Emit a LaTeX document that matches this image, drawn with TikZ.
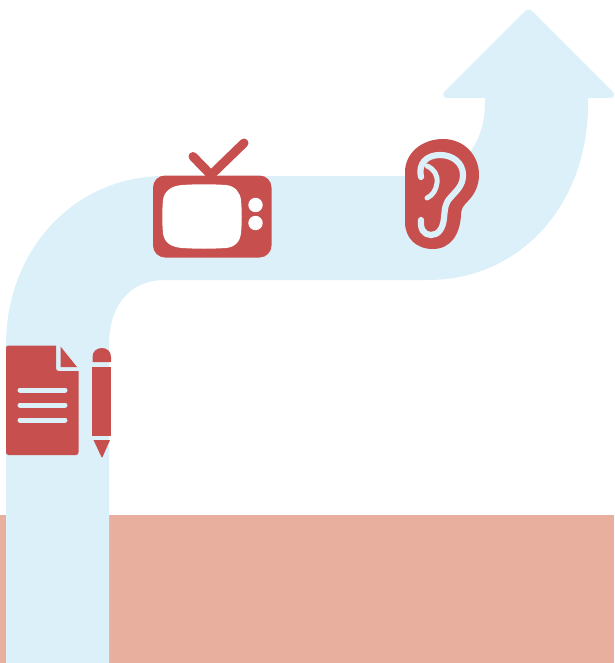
\documentclass[tikz,border=0pt]{standalone}
\definecolor{band}{HTML}{DBF0F8}
\definecolor{icon}{HTML}{C74F4E}
\definecolor{ground}{HTML}{E8AF9F}
\tikzset{
  px/.style={x=1pt,y=-1pt},
  bandfill/.style={fill=band,draw=none},
  iconfill/.style={fill=icon,draw=none},
  cut/.style={draw=band,line width=6.2pt,line cap=round,line join=round,fill=none},
  doccut/.style={draw=band,line width=5pt,line cap=round},
  antenna/.style={draw=icon,line width=9pt,line cap=round,line join=round}
}
\begin{document}
\begin{tikzpicture}[px]
\useasboundingbox (0,0) rectangle (614,663);
% ground
\fill[ground] (0,515) rectangle (614,663);
% band
\path[bandfill] (6,663) -- (6,345)
  .. controls (6,252) and (72,176) .. (165,176)
  -- (428,176)
  .. controls (462,176) and (485,140) .. (485,104)
  -- (485,98) -- (447,98)
  .. controls (443,98) and (442,94) .. (445,91)
  -- (524,12)
  .. controls (527,9) and (530,9) .. (533,12)
  -- (612,91)
  .. controls (615,94) and (615,98) .. (610,98)
  -- (588,98) -- (588,104)
  .. controls (588,205) and (520,280) .. (428,280)
  -- (165,280)
  .. controls (130,280) and (109,305) .. (109,345)
  -- (109,663) -- cycle;
% document
\path[iconfill] (8.5,345.5) -- (56,345.5) -- (56,368)
  .. controls (56,370) and (57,371) .. (59,371)
  -- (78.5,371) -- (78.5,452)
  .. controls (78.5,454) and (77.5,455) .. (76,455)
  -- (8.5,455)
  .. controls (7,455) and (6,454) .. (6,452)
  -- (6,348)
  .. controls (6,346.5) and (7,345.5) .. (8.5,345.5) -- cycle;
\path[iconfill] (60.5,346.5) -- (77,367) -- (60.5,367) -- cycle;
\draw[doccut] (20,390) -- (65,390);
\draw[doccut] (20,405) -- (65,405);
\draw[doccut] (20,420) -- (65,420);
% pencil
\path[iconfill] (92.5,362) -- (92.5,357)
  .. controls (92.5,351.5) and (96.5,348) .. (102,348)
  .. controls (107,348) and (111,351.5) .. (111,357)
  -- (111,362) -- cycle;
\path[iconfill] (92,367) rectangle (111,436);
\path[iconfill] (93.5,440) -- (110,440) -- (103,456)
  .. controls (102.3,458) and (101.7,458) .. (101,456) -- cycle;
% television
\draw[antenna] (193,156.5) -- (211,175) -- (244,143);
\path[fill=icon,rounded corners=12pt] (153,175.5) rectangle (271.5,257.5);
\path[fill=white] (182,185)
  .. controls (200,184) and (208,184) .. (226,185)
  .. controls (235,186) and (240,192) .. (241,200)
  .. controls (242,212) and (242,222) .. (241,233)
  .. controls (240,242) and (235,247) .. (226,248)
  .. controls (208,249) and (200,249) .. (182,248)
  .. controls (170,247) and (164,242) .. (163,233)
  .. controls (162,222) and (162,212) .. (163,200)
  .. controls (164,192) and (170,186) .. (182,185) -- cycle;
\fill[white] (255.5,205) circle[radius=7.2];
\fill[white] (255.5,223) circle[radius=7.2];
% ear
\path[iconfill] (443,139)
  .. controls (464,139) and (479,155) .. (479,175)
  .. controls (479,186) and (474,195) .. (468,201)
  .. controls (463,206) and (461,209) .. (461,215)
  .. controls (460,235) and (450,249) .. (433,249)
  .. controls (416,249) and (405,238) .. (405,222)
  -- (405,172)
  .. controls (405,153) and (422,139) .. (443,139) -- cycle;
\draw[cut] (421,177)
  .. controls (418,164) and (426,155) .. (440,155)
  .. controls (453,155) and (463,163) .. (463,175)
  .. controls (463,186) and (456,191) .. (451,197)
  .. controls (445,203) and (445,208) .. (444,218)
  .. controls (443,229) and (438,235) .. (431,235)
  .. controls (424,235) and (420,229) .. (421,220);
\draw[draw=band,line width=5pt,line cap=round,fill=none] (427,166)
  .. controls (434,169) and (438,175) .. (437,183)
  .. controls (436,190) and (433,195) .. (427,198);
\end{tikzpicture}
\end{document}
